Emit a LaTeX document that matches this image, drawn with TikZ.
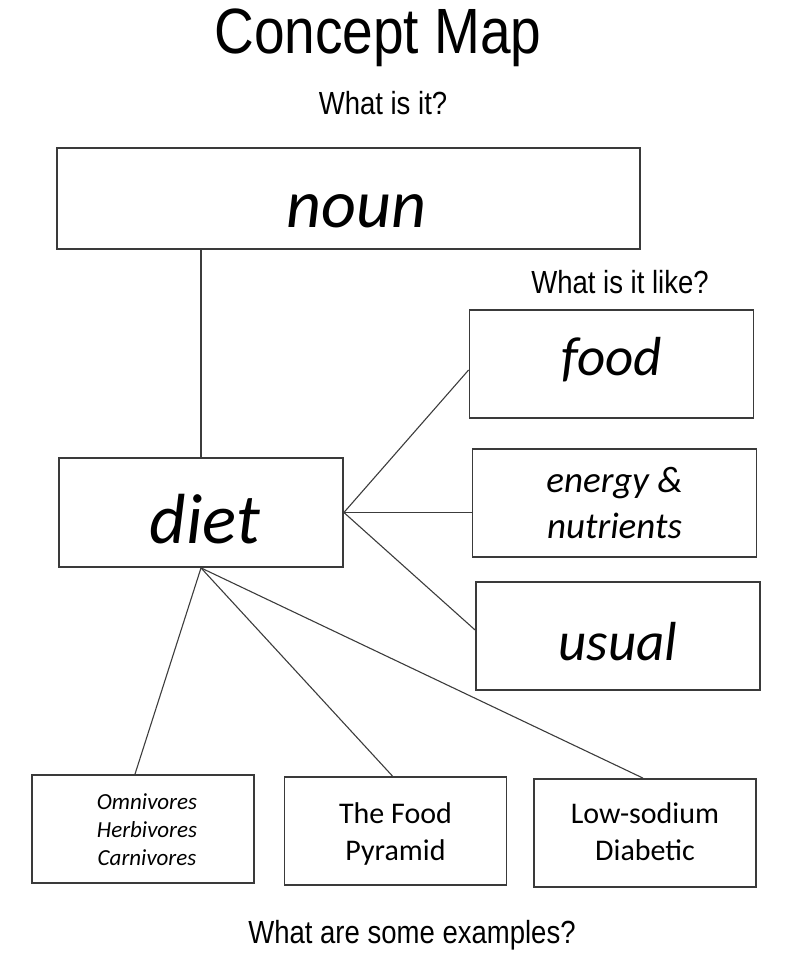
\documentclass[tikz,border=0pt]{standalone}
\usepackage{fontspec}
\setmainfont{Carlito}
\newfontfamily\headfont[FakeStretch=0.86]{Liberation Sans}
\definecolor{boxgray}{RGB}{58,58,58}
\definecolor{linegray}{RGB}{60,60,60}

\tikzset{
  cbox/.style={draw=boxgray, line width=1.8pt, inner sep=0pt, align=center},
  wide/.style={minimum width=284pt, minimum height=108pt},
  small/.style={minimum width=222pt, minimum height=108pt},
  hint/.style={inner sep=0pt, anchor=base, font=\headfont\fontsize{32}{36}\selectfont},
  link/.style={draw=linegray, line width=1.1pt},
}

\begin{document}
\begin{tikzpicture}[x=1pt,y=1pt,yscale=-1,xscale=1]
\useasboundingbox (0,0) rectangle (800,957);

% headings
\node[hint, font=\headfont\fontsize{64}{70}\selectfont] (title) at (378,54) {Concept Map};
\node[hint] (whatis) at (383,115) {What is it?};
\node[hint] (whatlike) at (620,294) {What is it like?};
\node[hint] (examples) at (412,943) {What are some examples?};

% concept boxes
\node[cbox, minimum width=583pt, minimum height=101pt, text height=58pt, text depth=0pt,
      font=\itshape\fontsize{68}{80}\selectfont] (noun) at (348.5,198.5) {\hspace*{16pt}noun};
\node[cbox, minimum width=284pt, minimum height=109pt, text height=61pt, text depth=0pt,
      font=\itshape\fontsize{71}{84}\selectfont] (diet) at (201,512.5) {\hspace*{8pt}diet};
\node[cbox, wide, text height=38pt, text depth=16pt,
      font=\itshape\fontsize{55}{66}\selectfont] (food) at (611.5,364) {food};
\node[cbox, wide, text height=80pt, text depth=10pt,
      font=\itshape\fontsize{37}{46}\selectfont] (energy) at (614.5,503) {energy \&\\nutrients};
\node[cbox, wide, text height=48pt, text depth=0pt,
      font=\itshape\fontsize{55}{66}\selectfont] (usual) at (618,636) {usual};

% example boxes
\node[cbox, small, text height=78pt, text depth=6pt,
      font=\itshape\fontsize{23}{28}\selectfont] (kinds) at (143,829) {\hspace*{8pt}Omnivores\\\hspace*{8pt}Herbivores\\\hspace*{8pt}Carnivores};
\node[cbox, small, text height=66pt, text depth=8pt,
      font=\fontsize{30}{37}\selectfont] (pyramid) at (395.5,831) {The Food\\Pyramid};
\node[cbox, small, text height=62pt, text depth=8pt,
      font=\fontsize{30}{37}\selectfont] (special) at (645,833) {Low-sodium\\Diabetic};

% links
\draw[link] (diet.north) -- (diet.north |- noun.south);
\draw[link] (diet.east) -- ([yshift=6pt]food.west);
\draw[link] (diet.east) -- (diet.east -| energy.west);
\draw[link] (diet.east) -- ([yshift=-6pt]usual.west);
\draw[link] (diet.south) -- ([xshift=-8pt]kinds.north);
\draw[link] (diet.south) -- ([xshift=-3pt]pyramid.north);
\draw[link] (diet.south) -- ([xshift=-2pt]special.north);

\end{tikzpicture}
\end{document}
